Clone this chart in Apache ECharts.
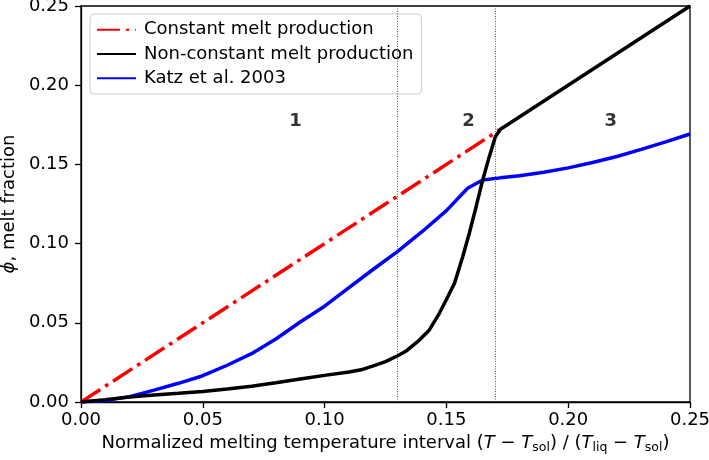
<!DOCTYPE html>
<html>
<head>
<meta charset="utf-8">
<script src="https://cdn.jsdelivr.net/npm/echarts@6/dist/echarts.min.js"></script>
<style>html,body{margin:0;padding:0;background:#fff}#c{width:709px;height:460px}</style>
</head>
<body>
<div id="c"></div>
<script>
// tick values
var xTicks = [0, 0.05, 0.10, 0.15, 0.20, 0.25];
var yTicks = [0, 0.05, 0.10, 0.15, 0.20, 0.25];
// Constant melt production
var redX = [0, 0.1722];
var redY = [0, 0.1722];
// Non-constant melt production
var blackX = [0, 0.01, 0.02, 0.03, 0.04, 0.05, 0.06, 0.07, 0.08, 0.09, 0.10, 0.11, 0.115, 0.12, 0.125, 0.13, 0.1337, 0.1389, 0.143, 0.1471, 0.1499, 0.1533, 0.1567, 0.1594, 0.1622, 0.1649, 0.1676, 0.1701, 0.1722, 0.25];
var blackY = [0, 0.0015, 0.0032, 0.0044, 0.0055, 0.0067, 0.0082, 0.0100, 0.0122, 0.0145, 0.0168, 0.0190, 0.0203, 0.0228, 0.0255, 0.0292, 0.0324, 0.0391, 0.0455, 0.056, 0.0644, 0.0749, 0.0917, 0.1065, 0.1233, 0.1402, 0.1549, 0.1675, 0.1722, 0.25];
// Katz et al. 2003
var blueX = [0, 0.01, 0.02, 0.03, 0.04, 0.05, 0.06, 0.07, 0.08, 0.09, 0.10, 0.11, 0.12, 0.13, 0.14, 0.15, 0.1587, 0.1649, 0.1721, 0.18, 0.19, 0.20, 0.21, 0.22, 0.23, 0.24, 0.25];
var blueY = [0, 0.0009, 0.0034, 0.0075, 0.0118, 0.0166, 0.0232, 0.0305, 0.0398, 0.0505, 0.0605, 0.0722, 0.0838, 0.0951, 0.1075, 0.1208, 0.1349, 0.1402, 0.1415, 0.1428, 0.1450, 0.1478, 0.1512, 0.1550, 0.1595, 0.1642, 0.1692];
// region boundaries
var boundaries = [0.1333, 0.1722];
// region labels
var regionX = [0.0881, 0.1591, 0.2175];
var regionY = [0.177, 0.177, 0.177];
var regionText = ['1', '2', '3'];

function zip(a, b) { return a.map(function (v, i) { return [v, b[i]]; }); }

var FONT = 'DejaVu Sans';
var FS = 18;
var chart = echarts.init(document.getElementById('c'), null, { renderer: 'canvas' });
chart.setOption({
  animation: false,
  backgroundColor: '#fff',
  textStyle: { fontFamily: FONT },
  grid: { left: 81, right: 19, top: 6, bottom: 58, containLabel: false, outerBoundsMode: 'none', show: true, borderColor: '#000', borderWidth: 1.3, backgroundColor: 'transparent' },
  legend: {
    left: 90, top: 14, orient: 'vertical',
    padding: [6.7, 8, 6.7, 6],
    itemWidth: 39, itemHeight: 20, itemGap: 6.3,
    backgroundColor: 'rgba(255,255,255,0.8)',
    borderColor: '#cccccc', borderWidth: 1, borderRadius: 4,
    itemStyle: { opacity: 0 },
    textStyle: { fontFamily: FONT, fontSize: FS, color: '#000', padding: [0, 0, 0, 3] },
    data: ['Constant melt production', 'Non-constant melt production', 'Katz et al. 2003']
  },
  xAxis: {
    type: 'value', min: xTicks[0], max: xTicks[xTicks.length - 1], interval: 0.05,
    name: '{n|Normalized melting temperature interval (}{i|T}{n| − }{i|T}{s|sol}{n|) / (}{i|T}{s|liq}{n| − }{i|T}{s|sol}{n|)}',
    nameLocation: 'middle', nameGap: 29,
    nameTextStyle: {
      rich: {
        n: { fontFamily: FONT, fontSize: FS, color: '#000' },
        i: { fontFamily: FONT, fontSize: FS, fontStyle: 'italic', color: '#000' },
        s: { fontFamily: FONT, fontSize: 12.5, color: '#000', padding: [9, 0, 0, 0] }
      }
    },
    axisLine: { show: true, onZero: false, lineStyle: { color: '#000', width: 1.3 } },
    axisTick: { show: true, inside: false, length: 6, lineStyle: { color: '#000', width: 1.3 } },
    axisLabel: { fontFamily: FONT, fontSize: FS, color: '#000', margin: 9, formatter: function (v) { return v.toFixed(2); } },
    splitLine: { show: false }
  },
  yAxis: {
    type: 'value', min: yTicks[0], max: yTicks[yTicks.length - 1], interval: 0.05,
    name: '{i|ϕ}{n|, melt fraction}',
    nameLocation: 'middle', nameGap: 61, nameRotate: 90,
    nameTextStyle: {
      rich: {
        n: { fontFamily: FONT, fontSize: FS, color: '#000' },
        i: { fontFamily: FONT, fontSize: FS, fontStyle: 'italic', color: '#000' }
      }
    },
    axisLine: { show: true, onZero: false, lineStyle: { color: '#000', width: 1.3 } },
    axisTick: { show: true, inside: false, length: 6, lineStyle: { color: '#000', width: 1.3 } },
    axisLabel: { fontFamily: FONT, fontSize: FS, color: '#000', margin: 12, formatter: function (v) { return v.toFixed(2); } },
    splitLine: { show: false }
  },
  series: [
    {
      name: 'boundaries', type: 'line', data: [], silent: true,
      markLine: {
        silent: true, symbol: 'none', label: { show: false },
        lineStyle: { color: '#444', type: [1, 1.5], width: 0.9 },
        data: boundaries.map(function (b) { return { xAxis: b }; })
      }
    },
    {
      name: 'Katz et al. 2003', type: 'line', data: zip(blueX, blueY), showSymbol: false, symbol: 'none',
      lineStyle: { color: '#0000ff', width: 3.5 }, itemStyle: { color: '#0000ff' }, z: 3
    },
    {
      name: 'Constant melt production', type: 'line', data: zip(redX, redY), showSymbol: false, symbol: 'none',
      lineStyle: { color: '#ff0000', width: 3.5, type: [23, 5.8, 3.6, 5.8] }, itemStyle: { color: '#ff0000' }, z: 4
    },
    {
      name: 'Non-constant melt production', type: 'line', data: zip(blackX, blackY), showSymbol: false, symbol: 'none',
      lineStyle: { color: '#000', width: 3.5 }, itemStyle: { color: '#000' }, z: 5
    },
    {
      name: 'regions', type: 'scatter', symbolSize: 0, silent: true,
      data: regionX.map(function (x, i) { return { value: [x, regionY[i]], name: regionText[i] }; }),
      label: { show: true, position: 'inside', formatter: function (p) { return p.name; }, fontFamily: FONT, fontSize: FS, fontWeight: 'bold', color: '#000' }
    }
  ]
});
</script>
</body>
</html>
